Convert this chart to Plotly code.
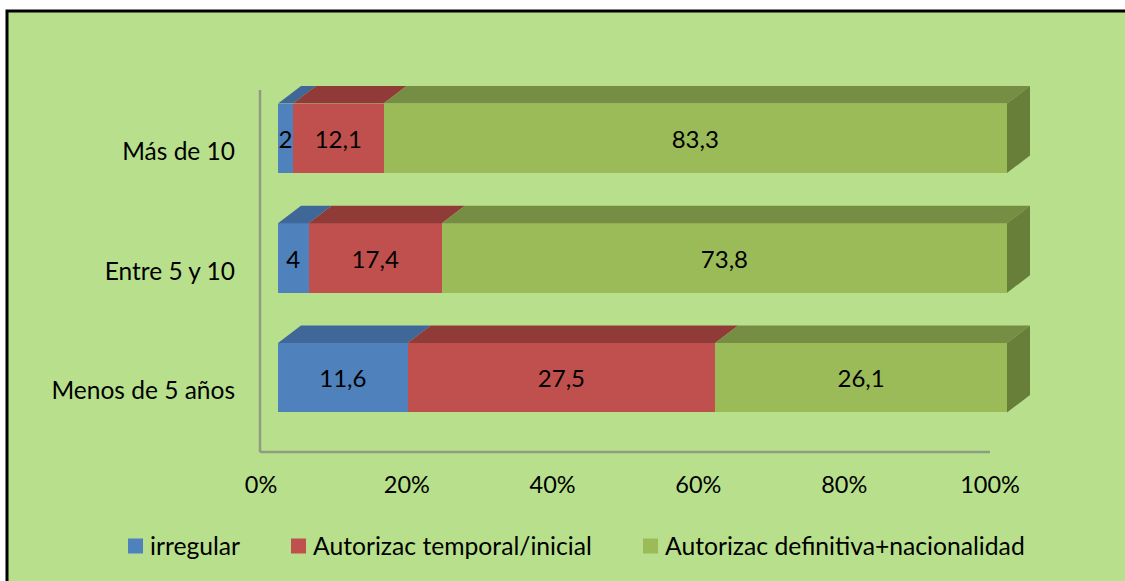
import plotly.graph_objects as go

W, H = 1125, 581

categorias = ["Menos de 5 años", "Entre 5 y 10", "Más de 10"]
irregular = [11.6, 4, 2]
temporal = [27.5, 17.4, 12.1]
definitiva = [26.1, 73.8, 83.3]
ticks_x = [0, 20, 40, 60, 80, 100]

series = [
    ("irregular", irregular, "#4F81BD", "#3F6797"),
    ("Autorizac temporal/inicial", temporal, "#C0504D", "#913B39"),
    ("Autorizac definitiva+nacionalidad", definitiva, "#9BBB59", "#768E43"),
]
color_lado = "#677F39"
fondo = "#B8E08C"
fuente = "Lato"
tam = 24

# leyenda hecha a mano: x del cuadrito de cada serie
leyenda_x = [128, 291, 643]
LEYENDA_Y = 546

# escala en pixeles: 0% del frente en x=278, 100% en x=1007
PX_X = 7.29
PX_Y = 119.75
X0 = 278
Y0 = 377.75
ANCHO = 0.58
DX = 23 / PX_X      # profundidad del efecto 3D
DY = 17.5 / PX_Y
OFF_EJE = 17 / PX_X  # las etiquetas del eje van en el plano de atras

pos = list(range(len(categorias)))
totales = [sum(t) for t in zip(irregular, temporal, definitiva)]

fig = go.Figure()

# BARRAS (frente)
for nombre, valores, color, _ in series:
    fig.add_trace(go.Bar(
        name=nombre,
        y=pos,
        x=valores,
        orientation="h",
        width=ANCHO,
        marker=dict(color=color, line=dict(width=0)),
        text=[str(v).replace(".", ",") for v in valores],
        textposition="inside",
        insidetextanchor="middle",
        textangle=0,
        constraintext="none",
        insidetextfont=dict(family=fuente, size=tam, color="black"),
        showlegend=False,
    ))

# CARAS SUPERIORES Y LATERAL
acumulado = [0] * len(pos)
for nombre, valores, color, color_top in series:
    for i in pos:
        ini = acumulado[i]
        fin = ini + valores[i] / totales[i] * 100
        acumulado[i] = fin
        arriba = i + ANCHO / 2
        fig.add_trace(go.Scatter(
            x=[ini, fin, fin + DX, ini + DX, ini],
            y=[arriba, arriba, arriba + DY, arriba + DY, arriba],
            mode="lines", fill="toself", fillcolor=color_top,
            line=dict(width=0), showlegend=False, hoverinfo="skip",
        ))

for i in pos:
    arriba = i + ANCHO / 2
    abajo = i - ANCHO / 2
    fig.add_trace(go.Scatter(
        x=[100, 100 + DX, 100 + DX, 100, 100],
        y=[arriba, arriba + DY, abajo + DY, abajo, arriba],
        mode="lines", fill="toself", fillcolor=color_lado,
        line=dict(width=0), showlegend=False, hoverinfo="skip",
    ))

formas = [
    # fondo con marco arriba y a la izquierda
    dict(type="rect", xref="paper", yref="paper", layer="below",
         x0=7 / W, x1=1.02, y0=-0.02, y1=1 - 11 / H,
         fillcolor=fondo, line=dict(color="black", width=3)),
    # pared y suelo del grafico
    dict(type="line", xref="paper", yref="paper", layer="below",
         x0=260 / W, x1=260 / W, y0=1 - 90 / H, y1=1 - 452 / H,
         line=dict(color="#8F9C7F", width=2.5)),
    dict(type="line", xref="paper", yref="paper", layer="below",
         x0=260 / W, x1=990 / W, y0=1 - 452 / H, y1=1 - 452 / H,
         line=dict(color="#8F9C7F", width=2.5)),
]
textos = []

# LEYENDA
for (nombre, _, color, _), lx in zip(series, leyenda_x):
    formas.append(dict(
        type="rect", xref="paper", yref="paper",
        x0=lx / W, x1=(lx + 15) / W,
        y0=1 - (LEYENDA_Y + 7.5) / H, y1=1 - (LEYENDA_Y - 7.5) / H,
        fillcolor=color, line=dict(width=0),
    ))
    textos.append(dict(
        text=nombre, xref="paper", yref="paper", showarrow=False,
        x=(lx + 19.5) / W, y=1 - (LEYENDA_Y - 1) / H,
        xanchor="left", yanchor="middle",
        font=dict(family=fuente, size=24.7, color="black"),
    ))

fig.update_layout(
    width=W,
    height=H,
    margin=dict(l=0, r=0, t=0, b=0),
    paper_bgcolor="white",
    plot_bgcolor="rgba(0,0,0,0)",
    barmode="stack",
    barnorm="percent",
    showlegend=False,
    font=dict(family=fuente, size=tam, color="black"),
    xaxis=dict(
        range=[-X0 / PX_X, (W - X0) / PX_X],
        tickvals=[t - OFF_EJE for t in ticks_x],
        ticktext=[f"{t}%" for t in ticks_x],
        tickfont=dict(size=23.5),
        showgrid=False, zeroline=False, showline=False, ticks="",
        anchor="free", position=1 - 468 / H,
    ),
    yaxis=dict(
        range=[-(H - Y0) / PX_Y, Y0 / PX_Y],
        tickvals=[p - 13 / PX_Y for p in pos],
        ticktext=categorias,
        tickfont=dict(size=24.5),
        showgrid=False, zeroline=False, showline=False, ticks="",
        anchor="free", position=235 / W,
    ),
    shapes=formas,
    annotations=textos,
)

fig.write_html(
    "out.html",
    config={"displayModeBar": False},
    post_script="document.body.style.margin='0';",
)
